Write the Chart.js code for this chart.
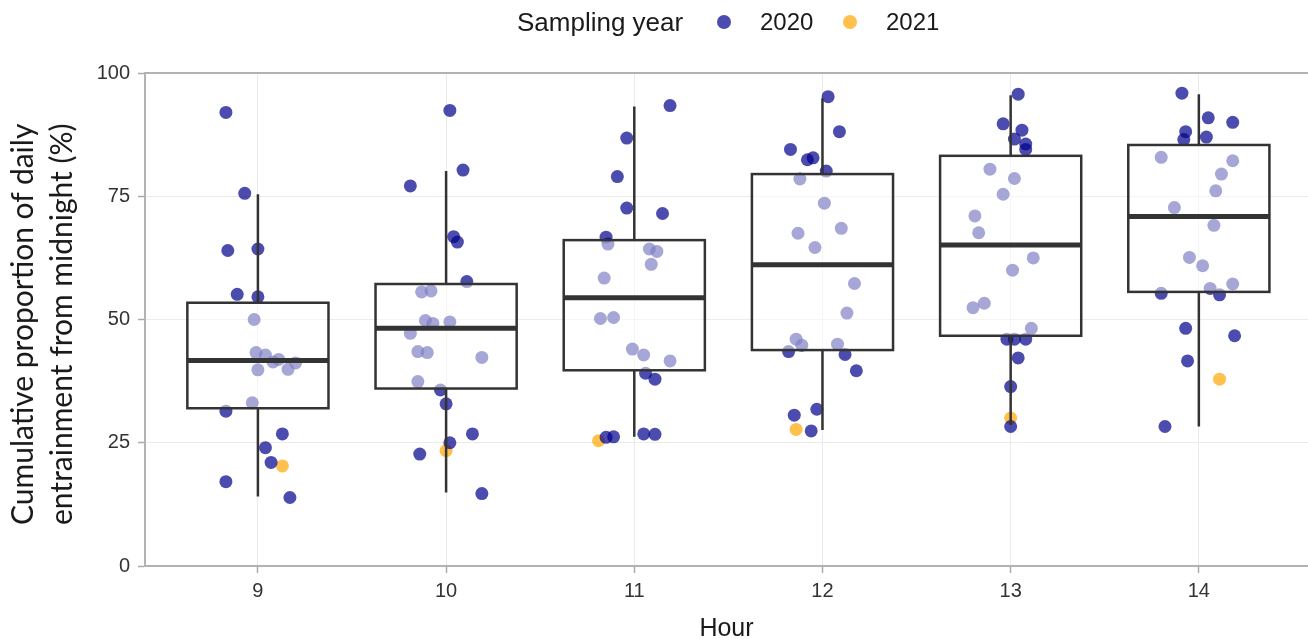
<!DOCTYPE html>
<html>
<head>
<meta charset="utf-8">
<script src="https://cdn.jsdelivr.net/npm/chart.js@4.4.0/dist/chart.umd.min.js"></script>
<style>
  body { margin: 0; background: #fff; }
  #wrap { position: relative; width: 1308px; height: 639px; overflow: hidden; font-family: "Liberation Sans", Arial, sans-serif; }
  #legend span { position: absolute; font-size: 24px; line-height: 24px; top: 10px; color: #1a1a1a; white-space: nowrap; }
  #legend i { position: absolute; width: 14px; height: 14px; border-radius: 50%; top: 15px; }
  #tituloY { position: absolute; left: 2px; top: 525px; transform: rotate(-90deg); transform-origin: left top;
             font-family: Lato, "Open Sans", sans-serif; font-size: 30px; line-height: 39px; color: #1a1a1a;
             white-space: pre; text-align: left; }
</style>
</head>
<body>
<div id="wrap">
  <canvas id="grafico" width="1308" height="639"></canvas>
  <div id="legend">
    <span style="left:517px; font-size:26px; top:9px; line-height:26px">Sampling year</span>
    <i style="left:717px; background: rgba(0,0,139,0.7)"></i>
    <span style="left:760px">2020</span>
    <i style="left:843px; background: rgba(255,165,0,0.7)"></i>
    <span style="left:886px">2021</span>
  </div>
  <div id="tituloY"></div>
</div>
<script>
// valores
var hours = [9, 10, 11, 12, 13, 14];
var yTicks = [0, 25, 50, 75, 100];
var yTitle = ['Cumulative proportion of daily', 'entrainment from midnight (%)'];

// caixas: bigode inferior, q1, mediana, q3, bigode superior
var whiskerLow = [14.1, 14.9, 26.2, 27.6, 28.6, 28.3];
var q1 = [32.0, 36.0, 39.7, 43.8, 46.7, 55.6];
var median = [41.7, 48.2, 54.4, 61.1, 65.1, 70.9];
var q3 = [53.4, 57.2, 66.1, 79.5, 83.2, 85.4];
var whiskerHigh = [75.4, 80.1, 93.2, 94.9, 95.5, 95.7];

// pontos com jitter [hora, valor]
var points2020 = [
    [8.83, 92.0], [8.93, 75.6], [8.84, 64.0], [9.00, 64.3], [8.89, 55.1], [9.00, 54.6],
    [8.98, 50.0], [8.99, 43.3], [9.04, 42.8], [9.11, 41.9], [9.08, 41.4], [9.20, 41.2],
    [9.16, 39.9], [9.00, 39.8], [8.97, 33.1], [8.83, 31.4], [9.13, 26.8], [9.04, 24.0],
    [9.07, 21.0], [8.83, 17.1], [9.17, 13.9],

    [10.02, 92.4], [10.09, 80.3], [9.81, 77.1], [10.04, 66.8], [10.06, 65.7], [10.11, 57.7],
    [9.87, 55.6], [9.92, 55.8], [9.89, 49.8], [9.93, 49.2], [10.02, 49.5], [9.81, 47.2],
    [9.85, 43.5], [9.90, 43.3], [10.19, 42.3], [9.85, 37.4], [9.97, 35.7], [10.00, 32.9],
    [10.14, 26.8], [10.02, 25.0], [9.86, 22.7], [10.19, 14.7],

    [11.19, 93.4], [10.96, 86.8], [10.91, 79.0], [10.96, 72.6], [11.15, 71.5], [10.85, 66.7],
    [10.86, 65.3], [11.08, 64.3], [11.12, 63.8], [11.09, 61.2], [10.84, 58.4], [10.82, 50.2],
    [10.89, 50.4], [10.99, 44.0], [11.05, 42.8], [11.19, 41.6], [11.06, 39.1], [11.11, 37.9],
    [10.89, 26.2], [10.85, 26.1], [11.05, 26.8], [11.11, 26.7],

    [12.03, 95.2], [12.09, 88.1], [11.83, 84.5], [11.92, 82.4], [11.95, 82.8], [12.02, 80.1],
    [11.88, 78.5], [12.01, 73.6], [12.10, 68.5], [11.87, 67.5], [11.96, 64.6], [12.17, 57.3],
    [12.13, 51.3], [11.86, 46.0], [11.89, 44.8], [12.08, 45.0], [11.82, 43.5], [12.12, 42.9],
    [12.18, 39.6], [11.97, 31.8], [11.85, 30.6], [11.94, 27.4],

    [13.04, 95.7], [12.96, 89.7], [13.06, 88.4], [13.02, 86.6], [13.08, 85.6], [13.08, 84.5],
    [12.89, 80.5], [13.02, 78.6], [12.96, 75.4], [12.81, 71.0], [12.83, 67.6], [13.12, 62.5],
    [13.01, 60.0], [12.86, 53.3], [12.80, 52.4], [13.11, 48.2], [12.98, 46.0], [13.02, 46.0],
    [13.08, 46.0], [13.04, 42.2], [13.00, 36.4], [13.00, 28.3],

    [13.91, 95.9], [14.05, 90.9], [14.18, 90.0], [13.93, 88.1], [13.92, 86.5], [14.04, 87.0],
    [13.80, 82.9], [14.18, 82.2], [14.12, 79.5], [14.09, 76.1], [13.87, 72.7], [14.08, 69.1],
    [13.95, 62.6], [14.02, 60.9], [14.18, 57.2], [14.06, 56.3], [13.80, 55.3], [14.11, 55.0],
    [13.93, 48.2], [14.19, 46.7], [13.94, 41.6], [13.82, 28.3]
];
var points2021 = [[9.13, 20.3], [10.00, 23.4], [10.81, 25.4], [11.86, 27.7], [13.00, 30.0], [14.11, 37.9]];

var boxHalfWidth = 0.375;

document.getElementById('tituloY').textContent = yTitle.join('\n');

function toXY(lista) {
    return lista.map(function (p) { return { x: p[0], y: p[1] }; });
}

// desenha as caixas por cima dos pontos
var boxPlugin = {
    id: 'boxPlugin',
    afterDatasetsDraw: function (chart) {
        var ctx = chart.ctx;
        var xs = chart.scales.x;
        var ys = chart.scales.y;
        var area = chart.chartArea;

        ctx.save();
        // borda superior do painel
        ctx.strokeStyle = '#b3b3b3';
        ctx.lineWidth = 2;
        ctx.beginPath();
        ctx.moveTo(area.left, area.top);
        ctx.lineTo(area.right, area.top);
        ctx.stroke();

        ctx.strokeStyle = '#333333';
        for (var i = 0; i < hours.length; i++) {
            var xc = xs.getPixelForValue(hours[i]);
            var x0 = xs.getPixelForValue(hours[i] - boxHalfWidth);
            var x1 = xs.getPixelForValue(hours[i] + boxHalfWidth);
            var yLow = ys.getPixelForValue(whiskerLow[i]);
            var yQ1 = ys.getPixelForValue(q1[i]);
            var yMed = ys.getPixelForValue(median[i]);
            var yQ3 = ys.getPixelForValue(q3[i]);
            var yHigh = ys.getPixelForValue(whiskerHigh[i]);

            ctx.lineWidth = 2.5;
            ctx.beginPath();
            ctx.moveTo(xc, yQ3);
            ctx.lineTo(xc, yHigh);
            ctx.moveTo(xc, yQ1);
            ctx.lineTo(xc, yLow);
            ctx.stroke();

            ctx.fillStyle = 'rgba(255,255,255,0.5)';
            ctx.fillRect(x0, yQ3, x1 - x0, yQ1 - yQ3);
            ctx.strokeRect(x0, yQ3, x1 - x0, yQ1 - yQ3);

            ctx.lineWidth = 5;
            ctx.beginPath();
            ctx.moveTo(x0, yMed);
            ctx.lineTo(x1, yMed);
            ctx.stroke();
        }
        ctx.restore();
    }
};

var grafico = document.getElementById('grafico');

var config = {
    type: 'scatter',
    data: {
        datasets: [{
            label: '2020',
            data: toXY(points2020),
            backgroundColor: 'rgba(0,0,139,0.7)',
            borderWidth: 0,
            pointRadius: 6.5
        }, {
            label: '2021',
            data: toXY(points2021),
            backgroundColor: 'rgba(255,165,0,0.7)',
            borderWidth: 0,
            pointRadius: 6.5
        }]
    },
    options: {
        responsive: false,
        devicePixelRatio: 1,
        animation: false,
        events: [],
        layout: { autoPadding: false, padding: { top: 73, right: 0, bottom: 0, left: 0 } },
        plugins: {
            legend: { display: false },
            tooltip: { enabled: false }
        },
        scales: {
            x: {
                type: 'linear',
                min: 8.4,
                max: 14.58,
                afterBuildTicks: function (s) { s.ticks = hours.map(function (h) { return { value: h }; }); },
                afterFit: function (s) { s.height = 73; s.paddingLeft = 0; s.paddingRight = 0; },
                ticks: {
                    color: '#333333',
                    padding: 6,
                    font: { family: 'Liberation Sans', size: 20 }
                },
                grid: { color: '#ebebeb', lineWidth: 1, tickColor: '#aaaaaa', tickLength: 7, tickWidth: 1.5 },
                border: { color: '#b3b3b3', width: 2 },
                title: {
                    display: true,
                    text: 'Hour',
                    color: '#1a1a1a',
                    padding: { top: 0, bottom: 0 },
                    font: { family: 'Liberation Sans', size: 25, lineHeight: 0.76 }
                }
            },
            y: {
                min: 0,
                max: 100,
                afterBuildTicks: function (s) { s.ticks = yTicks.map(function (v) { return { value: v }; }); },
                afterFit: function (s) { s.width = 145; },
                ticks: {
                    color: '#333333',
                    padding: 8,
                    font: { family: 'Liberation Sans', size: 20 }
                },
                grid: { color: '#ebebeb', lineWidth: 1, tickColor: '#aaaaaa', tickLength: 7, tickWidth: 1.5 },
                border: { color: '#b3b3b3', width: 2 }
            }
        }
    },
    plugins: [boxPlugin]
};

new Chart(grafico, config);
</script>
</body>
</html>
